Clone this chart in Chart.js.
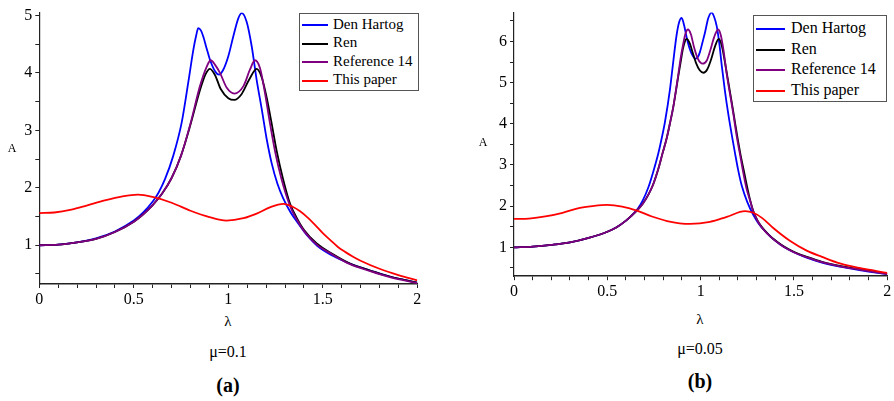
<!DOCTYPE html>
<html>
<head>
<meta charset="utf-8">
<script src="https://cdn.jsdelivr.net/npm/chart.js@4/dist/chart.umd.min.js"></script>
<style>
    body {
        margin: 0;
        width: 894px;
        height: 401px;
        background: #fff;
        position: relative;
        overflow: hidden;
        font-family: "Liberation Serif", "Times New Roman", serif;
        color: #000;
    }
    canvas { position: absolute; }
    .txt {
        position: absolute;
        transform: translate(-50%, -50%);
        white-space: nowrap;
        line-height: 1;
    }
    .legend {
        position: absolute;
        box-sizing: border-box;
        border: 1.5px solid #555;
        background: #fff;
    }
    .legend .row {
        position: absolute;
        left: 0;
        white-space: nowrap;
        line-height: 1;
    }
    .legend .swatch {
        position: absolute;
        height: 2px;
    }
</style>
</head>
<body>
<canvas id="chart-a" width="440" height="310" style="left:0;top:0"></canvas>
<canvas id="chart-b" width="424" height="302" style="left:470px;top:0"></canvas>

<div class="txt" style="left:12px;top:148px;font-size:12px">A</div>
<div class="txt" style="left:228px;top:321px;font-size:15px">λ</div>
<div class="txt" style="left:228px;top:352px;font-size:16px">μ=0.1</div>
<div class="txt" style="left:228px;top:385px;font-size:20px;font-weight:bold">(a)</div>

<div class="txt" style="left:483px;top:142px;font-size:12px">A</div>
<div class="txt" style="left:700px;top:319px;font-size:15px">λ</div>
<div class="txt" style="left:700px;top:349px;font-size:16px">μ=0.05</div>
<div class="txt" style="left:700px;top:381px;font-size:20px;font-weight:bold">(b)</div>

<div id="legend-a" class="legend" style="left:299px;top:13px;width:120px;height:78px"></div>
<div id="legend-b" class="legend" style="left:753px;top:15px;width:134px;height:87px"></div>

<script>
// ---- panel (a): mu = 0.1 ----
const dhLambdaA = [0, 0.1, 0.2, 0.3, 0.4, 0.5, 0.55, 0.6, 0.63, 0.665, 0.709, 0.753, 0.788, 0.815, 0.83, 0.841, 0.855, 0.868, 0.885, 0.903, 0.93, 0.951, 0.974, 1.0, 1.026, 1.053, 1.071, 1.097, 1.124, 1.15, 1.177, 1.203, 1.23, 1.26, 1.29, 1.33, 1.37, 1.42, 1.47, 1.55, 1.65, 1.75, 1.85, 2.0];
const dhAmpA = [1.0, 1.01, 1.05, 1.12, 1.24, 1.43, 1.57, 1.76, 1.91, 2.15, 2.56, 3.13, 3.83, 4.40, 4.65, 4.78, 4.74, 4.63, 4.43, 4.23, 4.03, 3.97, 4.06, 4.29, 4.63, 4.95, 5.04, 4.89, 4.46, 3.88, 3.37, 2.85, 2.42, 2.07, 1.82, 1.57, 1.38, 1.16, 0.99, 0.82, 0.67, 0.56, 0.46, 0.35];

const renLambdaA = [0, 0.1, 0.2, 0.3, 0.4, 0.5, 0.55, 0.6, 0.65, 0.7, 0.75, 0.8, 0.85, 0.88, 0.903, 0.93, 0.96, 1.0, 1.032, 1.07, 1.11, 1.15, 1.175, 1.2, 1.225, 1.256, 1.29, 1.327, 1.36, 1.4, 1.468, 1.55, 1.644, 1.75, 1.85, 2.0];
const renAmpA = [1.0, 1.01, 1.05, 1.11, 1.23, 1.41, 1.54, 1.70, 1.90, 2.17, 2.56, 3.10, 3.70, 3.98, 4.07, 3.96, 3.72, 3.56, 3.53, 3.63, 3.88, 4.07, 3.94, 3.62, 3.20, 2.64, 2.15, 1.72, 1.49, 1.27, 1.03, 0.85, 0.68, 0.56, 0.46, 0.35];

const refLambdaA = [0, 0.1, 0.2, 0.3, 0.4, 0.5, 0.55, 0.6, 0.65, 0.7, 0.75, 0.8, 0.85, 0.886, 0.907, 0.93, 0.956, 0.992, 1.032, 1.08, 1.115, 1.141, 1.168, 1.194, 1.217, 1.247, 1.28, 1.327, 1.36, 1.4, 1.468, 1.55, 1.644, 1.75, 1.85, 2.0];
const refAmpA = [1.0, 1.01, 1.05, 1.11, 1.23, 1.41, 1.54, 1.70, 1.90, 2.17, 2.56, 3.12, 3.77, 4.11, 4.22, 4.14, 4.0, 3.74, 3.64, 3.77, 4.06, 4.22, 4.08, 3.65, 3.19, 2.64, 2.17, 1.68, 1.46, 1.25, 1.01, 0.84, 0.67, 0.55, 0.45, 0.34];

const paperLambdaA = [0, 0.08, 0.17, 0.25, 0.346, 0.44, 0.522, 0.6, 0.7, 0.8, 0.9, 0.99, 1.08, 1.15, 1.22, 1.291, 1.34, 1.38, 1.42, 1.46, 1.5, 1.54, 1.58, 1.62, 1.66, 1.7, 1.8, 1.9, 2.0];
const paperAmpA = [1.56, 1.57, 1.62, 1.69, 1.78, 1.85, 1.88, 1.84, 1.74, 1.60, 1.49, 1.43, 1.47, 1.55, 1.66, 1.72, 1.67, 1.59, 1.48, 1.35, 1.21, 1.09, 0.97, 0.88, 0.80, 0.73, 0.59, 0.48, 0.39];

// ---- panel (b): mu = 0.05 ----
const dhLambdaB = [0, 0.1, 0.2, 0.3, 0.4, 0.5, 0.55, 0.6, 0.63, 0.662, 0.69, 0.72, 0.745, 0.773, 0.79, 0.809, 0.836, 0.853, 0.871, 0.885, 0.898, 0.912, 0.924, 0.94, 0.952, 0.971, 0.985, 0.996, 1.01, 1.023, 1.041, 1.059, 1.072, 1.086, 1.1, 1.113, 1.13, 1.148, 1.166, 1.184, 1.2, 1.22, 1.25, 1.282, 1.31, 1.35, 1.389, 1.43, 1.47, 1.52, 1.568, 1.65, 1.746, 1.85, 2.0];
const dhAmpB = [1.0, 1.02, 1.06, 1.12, 1.23, 1.38, 1.49, 1.65, 1.77, 1.93, 2.14, 2.46, 2.82, 3.28, 3.62, 4.05, 4.85, 5.5, 6.15, 6.47, 6.57, 6.38, 6.12, 5.84, 5.7, 5.58, 5.62, 5.74, 5.98, 6.21, 6.57, 6.70, 6.6, 6.37, 5.95, 5.42, 4.8, 4.24, 3.75, 3.29, 2.9, 2.5, 2.1, 1.79, 1.58, 1.37, 1.2, 1.06, 0.95, 0.84, 0.75, 0.63, 0.53, 0.45, 0.35];

const renLambdaB = [0, 0.1, 0.2, 0.3, 0.4, 0.5, 0.55, 0.6, 0.63, 0.662, 0.69, 0.72, 0.745, 0.773, 0.795, 0.818, 0.835, 0.853, 0.867, 0.88, 0.893, 0.905, 0.915, 0.925, 0.94, 0.958, 0.975, 0.995, 1.015, 1.035, 1.055, 1.077, 1.097, 1.113, 1.128, 1.145, 1.162, 1.18, 1.198, 1.215, 1.232, 1.25, 1.266, 1.282, 1.305, 1.33, 1.36, 1.389, 1.43, 1.47, 1.52, 1.568, 1.65, 1.746, 1.85, 2.0];
const renAmpB = [1.0, 1.02, 1.06, 1.12, 1.23, 1.38, 1.49, 1.65, 1.77, 1.91, 2.06, 2.28, 2.52, 2.90, 3.27, 3.65, 4.0, 4.40, 4.78, 5.15, 5.5, 5.82, 5.99, 6.06, 5.97, 5.72, 5.48, 5.3, 5.24, 5.32, 5.55, 5.88, 6.06, 5.9, 5.55, 5.1, 4.65, 4.15, 3.65, 3.22, 2.85, 2.45, 2.13, 1.88, 1.65, 1.48, 1.33, 1.21, 1.07, 0.96, 0.85, 0.77, 0.65, 0.55, 0.47, 0.36];

const refLambdaB = [0, 0.1, 0.2, 0.3, 0.4, 0.5, 0.55, 0.6, 0.63, 0.662, 0.69, 0.72, 0.745, 0.773, 0.795, 0.818, 0.835, 0.853, 0.867, 0.88, 0.893, 0.907, 0.918, 0.932, 0.948, 0.965, 0.985, 1.011, 1.032, 1.05, 1.072, 1.094, 1.108, 1.122, 1.14, 1.158, 1.175, 1.193, 1.211, 1.228, 1.246, 1.266, 1.282, 1.305, 1.33, 1.36, 1.389, 1.43, 1.47, 1.52, 1.568, 1.65, 1.746, 1.85, 2.0];
const refAmpB = [1.0, 1.02, 1.06, 1.12, 1.23, 1.38, 1.49, 1.65, 1.77, 1.91, 2.06, 2.28, 2.52, 2.90, 3.27, 3.65, 4.0, 4.40, 4.8, 5.19, 5.6, 5.95, 6.18, 6.29, 6.17, 5.85, 5.58, 5.46, 5.53, 5.76, 6.1, 6.29, 6.15, 5.8, 5.2, 4.7, 4.24, 3.7, 3.25, 2.82, 2.42, 2.12, 1.87, 1.64, 1.47, 1.32, 1.2, 1.06, 0.95, 0.84, 0.76, 0.64, 0.54, 0.46, 0.35];

const paperLambdaB = [0, 0.08, 0.168, 0.26, 0.347, 0.42, 0.498, 0.58, 0.659, 0.739, 0.82, 0.943, 1.05, 1.14, 1.2375, 1.282, 1.33, 1.389, 1.478, 1.568, 1.65, 1.746, 1.85, 2.0];
const paperAmpB = [1.69, 1.70, 1.75, 1.84, 1.95, 2.0, 2.03, 1.99, 1.89, 1.75, 1.64, 1.57, 1.62, 1.74, 1.88, 1.84, 1.71, 1.47, 1.16, 0.92, 0.77, 0.61, 0.50, 0.38];

const seriesLabels = ['Den Hartog', 'Ren', 'Reference 14', 'This paper'];
const seriesColors = ['#0000ff', '#000000', '#800080', '#ff0000'];

const FONT = '"Liberation Serif", "Times New Roman", serif';

function toPoints(xs, ys) {
    return xs.map((x, i) => ({ x: x, y: ys[i] }));
}

/**
 * Build one panel
 */
function makePanel(canvasId, series, cfg) {
    const ctx = document.getElementById(canvasId).getContext('2d');
    const datasets = series.map((s, i) => ({
        label: seriesLabels[i],
        data: toPoints(s[0], s[1]),
        borderColor: seriesColors[i],
        borderWidth: 1.8,
        pointRadius: 0,
        fill: false,
        cubicInterpolationMode: 'monotone',
        order: series.length - i
    }));

    return new Chart(ctx, {
        type: 'line',
        data: { datasets: datasets },
        options: {
            responsive: false,
            animation: false,
            events: [],
            layout: { padding: cfg.padding },
            plugins: { legend: { display: false }, tooltip: { enabled: false } },
            scales: {
                x: {
                    type: 'linear',
                    min: 0,
                    max: 2,
                    afterFit: scale => { scale.height = cfg.xAxisHeight; },
                    border: { display: true, color: '#222', width: 1.5 },
                    grid: { drawOnChartArea: false, drawTicks: true, tickLength: 4, color: '#222' },
                    ticks: {
                        stepSize: 0.1,
                        autoSkip: false,
                        maxRotation: 0,
                        padding: 2,
                        color: '#000',
                        font: { family: FONT, size: 16 },
                        callback: v => {
                            const h = v * 2;
                            return Math.abs(h - Math.round(h)) < 1e-6 ? String(Math.round(h) / 2) : '';
                        }
                    }
                },
                y: {
                    type: 'linear',
                    min: cfg.yMin,
                    max: cfg.yMax,
                    afterFit: scale => { scale.width = cfg.yAxisWidth; },
                    border: { display: true, color: '#222', width: 1.2 },
                    grid: { drawOnChartArea: false, drawTicks: true, tickLength: 4, color: '#222' },
                    ticks: {
                        stepSize: 0.5,
                        includeBounds: false,
                        autoSkip: false,
                        padding: 3,
                        color: '#000',
                        font: { family: FONT, size: 16 },
                        callback: v => Math.abs(v - Math.round(v)) < 1e-6 ? String(Math.round(v)) : ''
                    }
                }
            }
        }
    });
}

/**
 * HTML legend box
 */
function makeLegend(id, cfg) {
    const box = document.getElementById(id);
    seriesLabels.forEach((label, i) => {
        const cy = cfg.firstRow + i * cfg.rowGap;
        const sw = document.createElement('div');
        sw.className = 'swatch';
        sw.style.left = cfg.lineX0 + 'px';
        sw.style.width = (cfg.lineX1 - cfg.lineX0) + 'px';
        sw.style.top = (cy - 1) + 'px';
        sw.style.background = seriesColors[i];
        box.appendChild(sw);

        const row = document.createElement('div');
        row.className = 'row';
        row.textContent = label;
        row.style.left = cfg.textX + 'px';
        row.style.top = (cy - cfg.fontSize / 2 - 1) + 'px';
        row.style.fontSize = cfg.fontSize + 'px';
        box.appendChild(row);
    });
}

makePanel('chart-a', [
    [dhLambdaA, dhAmpA],
    [renLambdaA, renAmpA],
    [refLambdaA, refAmpA],
    [paperLambdaA, paperAmpA]
], { yMin: 0.325, yMax: 5.05, yAxisWidth: 39.3, xAxisHeight: 26, padding: { left: 0, top: 11, right: 22.7, bottom: 0 } });

makePanel('chart-b', [
    [dhLambdaB, dhAmpB],
    [renLambdaB, renAmpB],
    [refLambdaB, refAmpB],
    [paperLambdaB, paperAmpB]
], { yMin: 0.3, yMax: 6.7, yAxisWidth: 44, xAxisHeight: 25.8, padding: { left: 0, top: 6.2, right: 6.7, bottom: 0 } });

makeLegend('legend-a', { firstRow: 11, rowGap: 18.5, lineX0: 2, lineX1: 28, textX: 33, fontSize: 15 });
makeLegend('legend-b', { firstRow: 13, rowGap: 20.5, lineX0: 2, lineX1: 31, textX: 37, fontSize: 16 });
</script>
</body>
</html>
